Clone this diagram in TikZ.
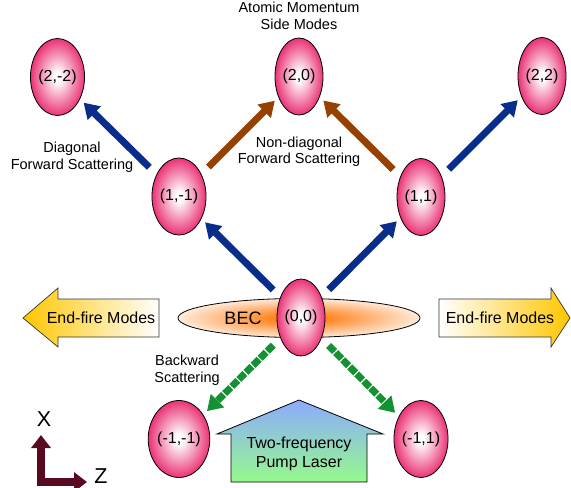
\documentclass[tikz,border=0pt]{standalone}
\usepackage{fontspec}
\setmainfont{Liberation Sans}
\usetikzlibrary{shapes.geometric,arrows.meta}
\definecolor{pk}{RGB}{234,50,118}
\definecolor{navyb}{RGB}{10,45,140}
\definecolor{brownb}{RGB}{150,65,0}
\definecolor{greenb}{RGB}{20,145,50}
\definecolor{goldb}{RGB}{255,198,0}
\definecolor{maroonb}{RGB}{90,10,32}
\definecolor{orangeb}{RGB}{255,135,35}
\definecolor{peachb}{RGB}{255,234,218}
\definecolor{pumptop}{RGB}{140,170,255}
\definecolor{pumpbot}{RGB}{150,250,140}
\pgfdeclareradialshading{pinkball}{\pgfpoint{0bp}{0bp}}{color(0bp)=(white); color(3bp)=(white); color(25bp)=(pk); color(50bp)=(pk)}
\pgfdeclareradialshading{becshade}{\pgfpoint{0bp}{0bp}}{color(0bp)=(orangeb); color(6bp)=(orangeb); color(25bp)=(peachb); color(50bp)=(peachb)}
\tikzset{
  mode/.style={ellipse, draw=black, line width=0.8bp, shading=pinkball,
    minimum width=48bp, minimum height=77bp, inner sep=0pt,
    font=\fontsize{16bp}{19bp}\selectfont},
  lbl/.style={align=center, inner sep=0pt, font=\fontsize{14.5bp}{16.8bp}\selectfont},
  scat/.style={line width=7bp, -{Triangle[width=18bp,length=15bp]},
    shorten <=10bp, shorten >=5bp},
  bluearr/.style={scat, draw=navyb, fill=navyb},
  brownarr/.style={scat, draw=brownb, fill=brownb},
  greenarr/.style={scat, draw=greenb, fill=greenb, dash pattern=on 8.5bp off 1.5bp},
  bigtxt/.style={inner sep=0pt, font=\fontsize{16bp}{19bp}\selectfont},
  axis/.style={line width=8bp, draw=maroonb, {Triangle[width=19bp,length=13bp]}-{Triangle[width=19bp,length=13bp]}},
}
\begin{document}
\begin{tikzpicture}[x=1bp, y=-1bp]
\useasboundingbox (0,0) rectangle (571,488);

% BEC cloud
\node[ellipse, draw=black, line width=0.8bp, shading=becshade,
  minimum width=242bp, minimum height=39bp, inner sep=0pt] (bec) at (299,318) {};
\node[inner sep=0pt, font=\fontsize{18bp}{21bp}\selectfont] (bectxt) at (243,318.3) {BEC};

% momentum modes
\node[mode] (p22m) at (57.5,77) {(2,-2)};
\node[mode] (p20)  at (299,76.5) {(2,0)};
\node[mode] (p22)  at (542,76) {(2,2)};
\node[mode] (p11m) at (179,196.5) {(1,-1)};
\node[mode] (p11)  at (421,197) {(1,1)};
\node[mode] (p00)  at (301,317.5) {(0,0)};
\node[mode] (pm1m) at (179,439) {(-1,-1)};
\node[mode] (pm11) at (421,439) {(-1,1)};

% scattering arrows
\draw[bluearr] (p00) -- (p11m);
\draw[bluearr] (p00) -- (p11);
\draw[bluearr] (p11m) -- (p22m);
\draw[bluearr] (p11) -- (p22);
\draw[brownarr] (p11m) -- (p20);
\draw[brownarr] (p11) -- (p20);
\draw[greenarr] (p00) -- (pm1m);
\draw[greenarr] (p00) -- (pm11);

% labels
\node[lbl] (lside) at (299,15.7) {Atomic Momentum\\Side Modes};
\node[lbl] (ldiag) at (72,157) {Diagonal\\Forward Scattering};
\node[lbl] (lnond) at (299,151.7) {Non-diagonal\\Forward Scattering};
\node[lbl] (lback) at (187,370) {Backward\\Scattering};

% end-fire arrows
\path[draw=black!80, line width=0.7bp, left color=goldb, right color=white]
  (23,318) -- (58,288) -- (58,299) -- (159,299) -- (159,337) -- (58,337) -- (58,347) -- cycle;
\node[bigtxt] (efl) at (101,317.5) {End-fire Modes};
\path[draw=black!80, line width=0.7bp, left color=white, right color=goldb]
  (570,318) -- (551,288) -- (551,299) -- (439,299) -- (439,337) -- (551,337) -- (551,347) -- cycle;
\node[bigtxt] (efr) at (500,317.5) {End-fire Modes};

% pump laser
\path[draw=black, line width=0.8bp, top color=pumptop, bottom color=pumpbot]
  (299,400) -- (383,434) -- (367,434) -- (367,482) -- (231,482) -- (231,434) -- (217,434) -- cycle;
\node[bigtxt, align=center] (pump) at (299,454) {Two-frequency\\Pump Laser};

% axes
\coordinate (axc) at (41,482);
\coordinate (axx) at (41,435);
\coordinate (axz) at (87,482);
\draw[axis, line join=miter] (axx) -- (axc) -- (axz);
\node[inner sep=0pt, font=\fontsize{21.5bp}{24bp}\selectfont] (xl) at (44,419) {X};
\node[inner sep=0pt, font=\fontsize{21.5bp}{24bp}\selectfont] (zl) at (101,476) {Z};
\end{tikzpicture}
\end{document}
